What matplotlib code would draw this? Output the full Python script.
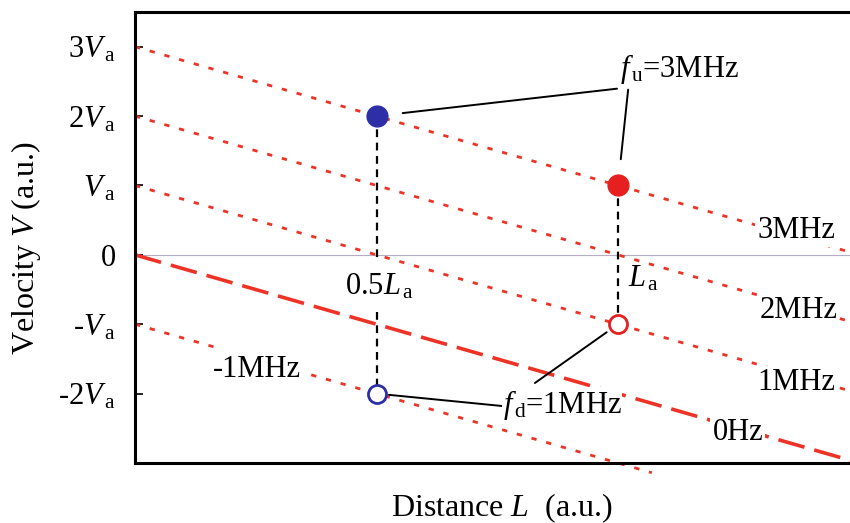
import matplotlib
matplotlib.use("Agg")
import matplotlib.pyplot as plt
import numpy as np

plt.rcParams["font.family"] = ["Liberation Serif", "DejaVu Serif"]
plt.rcParams["mathtext.fontset"] = "custom"
plt.rcParams["mathtext.rm"] = "Liberation Serif"
plt.rcParams["mathtext.it"] = "Liberation Serif:italic"

# Iso-frequency lines: V = f*Va - 2*Va*L/La  (units of Va and La)
freqs = [3, 2, 1, 0, -1]
freq_labels = ["3MHz", "2MHz", "1MHz", "0Hz", "-1MHz"]
slope = -2.0
line_end = [1.5, 1.5, 1.5, 1.5, 1.07]

# Label anchor (L, V baseline) for each iso-frequency line
label_L = [1.369, 1.373, 1.369, 1.248, 0.253]
label_V = [0.245, -0.909, -1.948, -2.67, -1.76]

# Tick values / labels on the velocity axis
yticks = [3, 2, 1, 0, -1, -2]
yticklabels = [r"3$V_{\,\mathrm{a}}$", r"2$V_{\,\mathrm{a}}$", r"$V_{\,\mathrm{a}}$", "0",
               r"-$V_{\,\mathrm{a}}$", r"-2$V_{\,\mathrm{a}}$"]

# Measurement points (L, V)
up_L, up_V = [0.5, 1.0], [2.0, 1.0]        # filled: f_u = 3 MHz
down_L, down_V = [0.5, 1.0], [-2.0, -1.0]  # open:   f_d = 1 MHz
point_colors = ["#2e2ea6", "#e62020"]

red = "#ec3326"
FS = 22

fig = plt.figure(figsize=(8.5, 5.23), dpi=100)
ax = fig.add_axes([135 / 850, 60 / 523, 724.5 / 850, 451 / 523])
ax.set_xlim(0, 1.5)
ax.set_ylim(-3.0, 3.5)

# zero-velocity reference
ax.axhline(0, color="#b4adc4", lw=0.8, zorder=1)

for f, end, lab, lx, ly in zip(freqs, line_end, freq_labels, label_L, label_V):
    L = np.array([0.0, end])
    V = f + slope * L
    if f == 0:
        ax.plot(L, V, color=red, lw=2.6, linestyle=(0, (7.5, 2.8)), zorder=2,
                solid_capstyle="butt")
    else:
        ax.plot(L, V, color=red, lw=2.0, linestyle=(0, (1.9, 3.6)), zorder=2,
                clip_on=(end >= 1.5))
    ax.text(lx, ly, lab, ha="center", va="baseline", fontsize=FS, zorder=4,
            bbox=dict(facecolor="white", edgecolor="none",
                      pad=5 if f == -1 else 1.5))

# vertical guides from the upper to the lower points
ax.plot([up_L[0], up_L[0]], [up_V[0], -0.1], color="black", lw=1.6,
        linestyle=(0, (3.5, 2.5)), zorder=3)
ax.plot([down_L[0], down_L[0]], [-0.82, down_V[0]], color="black", lw=1.6,
        linestyle=(0, (3.5, 2.5)), zorder=3)
ax.plot([up_L[1], up_L[1]], [up_V[1], down_V[1]], color="black", lw=1.6,
        linestyle=(0, (3.5, 2.5)), zorder=3)

for L, V, c in zip(up_L, up_V, point_colors):
    ax.plot(L, V, "o", ms=15, color=c, mec=c, zorder=5)
for L, V, c in zip(down_L, down_V, point_colors):
    ax.plot(L, V, "o", ms=13, mfc="white", mec=c, mew=2.0, zorder=5)

ax.text(0.435, -0.577, r"0.5$L_{\,\mathrm{a}}$", ha="left", va="baseline", fontsize=FS)
ax.text(1.021, -0.46, r"$L_{\,\mathrm{a}}$", ha="left", va="baseline", fontsize=FS)

ax.text(1.004, 2.57, r"$f_{\,\mathrm{u}}$=3MHz", ha="left", va="baseline", fontsize=FS)
ax.text(0.762, -2.28, r"$f_{\,\mathrm{d}}$=1MHz", ha="left", va="baseline", fontsize=FS,
        zorder=4, bbox=dict(facecolor="white", edgecolor="none", pad=0.5))

# leader lines from the labels to the points
leader_kw = dict(arrowstyle="-", color="black", lw=1.4, shrinkA=0)
ax.annotate("", xy=(up_L[0], up_V[0]), xytext=(0.998, 2.395),
            arrowprops=dict(shrinkB=19, **leader_kw))
ax.annotate("", xy=(up_L[1], up_V[1]), xytext=(1.021, 2.381),
            arrowprops=dict(shrinkB=19, **leader_kw))
ax.annotate("", xy=(down_L[0], down_V[0]), xytext=(0.762, -2.18),
            arrowprops=dict(shrinkB=9, **leader_kw))
ax.annotate("", xy=(down_L[1], down_V[1]), xytext=(0.828, -1.847),
            arrowprops=dict(shrinkB=10, **leader_kw))

ax.set_yticks(yticks)
ax.set_yticklabels(yticklabels, fontsize=FS)
ax.set_xticks([])
ax.tick_params(axis="y", direction="in", length=6, width=1.2, pad=14)

for s in ax.spines.values():
    s.set_linewidth(2.2)

ax.set_ylabel(r"Velocity $V$ (a.u.)", fontsize=23)
ax.yaxis.set_label_coords(-0.127, 0.477)
ax.set_xlabel(r"Distance $L$  (a.u.)", fontsize=23)
ax.xaxis.set_label_coords(0.507, -0.062)

fig.savefig("out.png", dpi=100)
